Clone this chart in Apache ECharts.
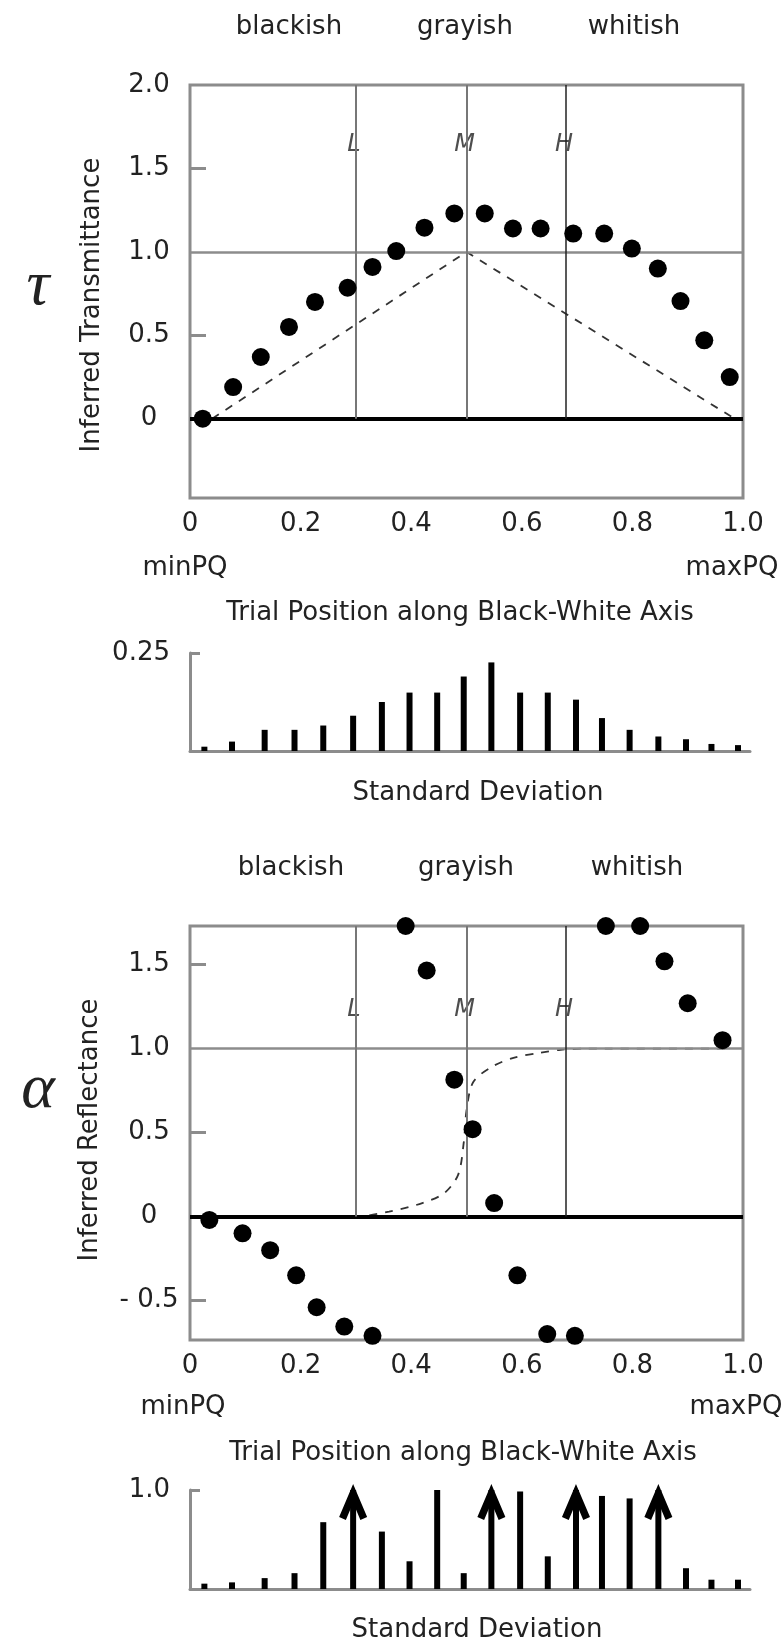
<!DOCTYPE html>
<html>
<head>
<meta charset="utf-8">
<script src="https://cdn.jsdelivr.net/npm/echarts@6/dist/echarts.min.js"></script>
<style>
  html, body { margin: 0; padding: 0; background: #fff; }
  #chart { width: 784px; height: 1648px; }
</style>
</head>
<body>
<div id="chart"></div>
<script>
// trial positions and inferred values

const trialX1 = [0.023, 0.078, 0.128, 0.179, 0.226, 0.285, 0.330, 0.373, 0.424, 0.478, 0.533, 0.584, 0.634, 0.693, 0.749, 0.799, 0.846, 0.887, 0.930, 0.976];
const tauVals = [0.0, 0.19, 0.37, 0.55, 0.70, 0.785, 0.91, 1.005, 1.145, 1.23, 1.23, 1.14, 1.14, 1.11, 1.11, 1.02, 0.90, 0.705, 0.47, 0.25];

const trialX2 = [0.035, 0.095, 0.145, 0.192, 0.229, 0.279, 0.330, 0.390, 0.428, 0.478, 0.511, 0.550, 0.592, 0.646, 0.696, 0.752, 0.814, 0.858, 0.900, 0.963];
const alphaVals = [-0.02, -0.10, -0.20, -0.35, -0.54, -0.655, -0.71, 1.73, 1.465, 0.815, 0.52, 0.08, -0.35, -0.70, -0.71, 1.73, 1.73, 1.52, 1.27, 1.05];

// standard deviation bars
const sdPos = [0.026, 0.076, 0.135, 0.189, 0.241, 0.295, 0.347, 0.397, 0.447, 0.495, 0.545, 0.597, 0.647, 0.698, 0.745, 0.795, 0.847, 0.897, 0.943, 0.991];
const sdTau = [0.011, 0.024, 0.054, 0.054, 0.065, 0.090, 0.125, 0.149, 0.149, 0.190, 0.226, 0.149, 0.149, 0.131, 0.084, 0.054, 0.037, 0.030, 0.018, 0.015];
const sdAlpha = [0.054, 0.067, 0.11, 0.16, 0.675, 1.0, 0.58, 0.28, 1.0, 0.16, 1.0, 0.985, 0.33, 1.0, 0.94, 0.915, 1.0, 0.21, 0.094, 0.094];
const arrowIdx = [5, 10, 13, 16];

// reference marks L, M, H
const markNames = ['L', 'M', 'H'];
const markPos = [0.30, 0.50, 0.68];

// dashed guide curves
const tauGuideX = [0.04, 0.5, 0.985];
const tauGuideY = [0, 1, 0];
const reflGuideX = [0.035, 0.30, 0.36, 0.42, 0.46, 0.485, 0.495, 0.50, 0.512, 0.545, 0.585, 0.633, 0.67, 0.72, 0.97];
const reflGuideY = [0, 0, 0.03, 0.08, 0.14, 0.25, 0.44, 0.63, 0.80, 0.89, 0.945, 0.975, 0.993, 1.0, 1.0];

const tauTicks = [0, 0.5, 1.0, 1.5, 2.0];
const alphaTicks = [-0.5, 0, 0.5, 1.0, 1.5];

const FONT = 'DejaVu Sans';
const GRAY = '#8c8c8c';
const TXT = '#222';

const zip = (a, b) => a.map((v, i) => [v, b[i]]);
const fmt = v => v === 0 ? '0' : (v < 0 ? '- ' + Math.abs(v).toFixed(1) : v.toFixed(1));

const chart = echarts.init(document.getElementById('chart'));

function mainX(gi) {
    return {
        gridIndex: gi, type: 'value', min: 0, max: 1, interval: 0.2,
        axisLine: { show: false }, axisTick: { show: false }, splitLine: { show: false },
        axisLabel: { margin: 13, color: TXT, fontFamily: FONT, fontSize: 26, formatter: fmt }
    };
}
function sdX(gi) {
    return {
        gridIndex: gi, type: 'value', min: 0, max: 1.0127,
        axisLine: { lineStyle: { color: GRAY, width: 3 } },
        axisTick: { show: false }, axisLabel: { show: false }, splitLine: { show: false }
    };
}
function mainY(gi, min, max, labels, ticks) {
    return {
        gridIndex: gi, type: 'value', min: min, max: max,
        axisLine: { show: false }, splitLine: { show: false },
        axisTick: { show: true, inside: true, length: 16, customValues: ticks, lineStyle: { color: GRAY, width: 3 } },
        axisLabel: { customValues: labels, margin: 41, align: 'center', color: TXT, fontFamily: FONT, fontSize: 26, formatter: fmt }
    };
}
function sdY(gi, max, label) {
    return {
        gridIndex: gi, type: 'value', min: 0, max: max,
        axisLine: { show: true, lineStyle: { color: GRAY, width: 3 } }, splitLine: { show: false },
        axisTick: { show: true, inside: true, length: 10, customValues: [max], lineStyle: { color: GRAY, width: 3 } },
        axisLabel: { customValues: [max], margin: 20, color: TXT, fontFamily: FONT, fontSize: 26, formatter: () => label }
    };
}

function refLines(top) {
    const lines = [
        { yAxis: 1, lineStyle: { color: GRAY, width: 2.5, type: 'solid' } },
        { yAxis: 0, lineStyle: { color: '#000', width: 4, type: 'solid' } }
    ];
    markPos.forEach((x, i) => {
        lines.push([
            { coord: [x, 0], lineStyle: i === 2 ? { color: '#222', width: 1.5, type: 'solid' } : { color: '#777', width: 2, type: 'solid' } },
            { coord: [x, top] }
        ]);
    });
    return { silent: true, symbol: 'none', label: { show: false }, data: lines };
}

function markLabels(xi, yi, y) {
    return {
        type: 'scatter', xAxisIndex: xi, yAxisIndex: yi, symbolSize: 0, z: 4,
        data: markPos.map((x, i) => ({ value: [x, y], name: markNames[i] })),
        label: {
            show: true, position: 'inside', offset: [-2, 0], formatter: '{b}',
            fontFamily: FONT, fontSize: 24, fontStyle: 'italic', color: '#222'
        }
    };
}

function txt(s, x, y, size, extra) {
    return Object.assign({
        type: 'text', x: x, y: y, silent: true,
        style: {
            text: s, font: (extra && extra.font) || (size + 'px "' + FONT + '"'), fill: TXT,
            textAlign: 'center', textVerticalAlign: 'middle', align: 'center', verticalAlign: 'middle'
        }
    }, extra && extra.rotation ? { rotation: extra.rotation } : {});
}

const greek = 'italic 64px "Liberation Serif"';
const dots = { color: '#000', opacity: 1 };
const dash = { color: '#333', width: 1.8, type: [8, 8] };

const option = {
    animation: false,
    backgroundColor: '#fff',
    grid: [
        { left: 190, top: 85, width: 553, height: 413, show: true, borderColor: GRAY, borderWidth: 3 },
        { left: 190, top: 653, width: 560, height: 98 },
        { left: 190, top: 926, width: 553, height: 414, show: true, borderColor: GRAY, borderWidth: 3 },
        { left: 190, top: 1490, width: 560, height: 99 }
    ],
    xAxis: [mainX(0), sdX(1), mainX(2), sdX(3)],
    yAxis: [
        mainY(0, -0.475, 2.0, tauTicks, [0.5, 1.5]),
        sdY(1, 0.25, '0.25'),
        mainY(2, -0.735, 1.73, alphaTicks, [-0.5, 0.5, 1.5]),
        sdY(3, 1.0, '1.0')
    ],
    series: [
        // transmittance panel
        {
            type: 'line', xAxisIndex: 0, yAxisIndex: 0, z: 3,
            data: zip(tauGuideX, tauGuideY), symbol: 'none',
            lineStyle: dash,
            markLine: refLines(2.0)
        },
        markLabels(0, 0, 1.64),
        {
            type: 'scatter', xAxisIndex: 0, yAxisIndex: 0, z: 5,
            data: zip(trialX1, tauVals), symbolSize: 18, itemStyle: dots
        },
        {
            type: 'bar', xAxisIndex: 1, yAxisIndex: 1, barWidth: 6,
            data: zip(sdPos, sdTau), itemStyle: { color: '#000' }
        },
        // reflectance panel
        {
            type: 'line', xAxisIndex: 2, yAxisIndex: 2, z: 3, smooth: 0.3,
            data: zip(reflGuideX, reflGuideY), symbol: 'none',
            lineStyle: dash,
            markLine: refLines(1.73)
        },
        markLabels(2, 2, 1.23),
        {
            type: 'scatter', xAxisIndex: 2, yAxisIndex: 2, z: 5,
            data: zip(trialX2, alphaVals), symbolSize: 18, itemStyle: dots
        },
        {
            type: 'bar', xAxisIndex: 3, yAxisIndex: 3, barWidth: 6,
            data: zip(sdPos, sdAlpha), itemStyle: { color: '#000' }
        },
        {
            type: 'scatter', xAxisIndex: 3, yAxisIndex: 3, z: 5,
            data: arrowIdx.map(i => [sdPos[i], sdAlpha[i]]),
            symbol: 'path://M50,0 L100,92 L76,100 L50,52 L24,100 L0,92 Z',
            symbolSize: [28, 36], symbolOffset: [0, 12],
            itemStyle: dots
        }
    ],
    graphic: [
        txt('blackish', 289, 27, 26), txt('grayish', 465, 27, 26), txt('whitish', 634, 27, 26),
        txt('minPQ', 185, 568, 26), txt('maxPQ', 732, 568, 26),
        txt('Trial Position along Black-White Axis', 460, 613, 26),
        txt('Standard Deviation', 478, 793, 26),
        txt('Inferred Transmittance', 92, 305, 26, { rotation: Math.PI / 2 }),
        txt('\u03c4', 38, 287, 0, { font: greek }),

        txt('blackish', 291, 868, 26), txt('grayish', 466, 868, 26), txt('whitish', 637, 868, 26),
        txt('minPQ', 183, 1407, 26), txt('maxPQ', 736, 1407, 26),
        txt('Trial Position along Black-White Axis', 463, 1453, 26),
        txt('Standard Deviation', 477, 1630, 26),
        txt('Inferred Reflectance', 90, 1130, 26, { rotation: Math.PI / 2 }),
        txt('\u03b1', 38, 1090, 0, { font: greek })
    ]
};

chart.setOption(option);
</script>
</body>
</html>
